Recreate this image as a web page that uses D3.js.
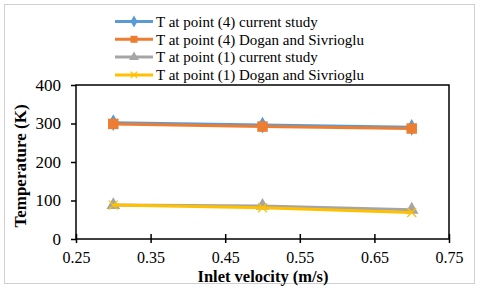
<!DOCTYPE html>
<html>
<head>
<meta charset="utf-8">
<script src="https://cdn.jsdelivr.net/npm/d3@7"></script>
<style>
  body { margin: 0; background: #fff; }
</style>
</head>
<body>
<div id="chart"></div>
<script>
var WIDTH = 480;
var HEIGHT = 289;
var FONT = 'Liberation Serif';
var TICK_SIZE = 17;
var X_TICK_SIZE = 16;
var LEGEND_SIZE = 15;

// data
var velocity = [0.3, 0.5, 0.7];
var t4Current = [302, 296, 290];
var t4Dogan = [299, 292, 287];
var t1Current = [88, 86, 76];
var t1Dogan = [88, 81, 69];
var xTicks = [0.25, 0.35, 0.45, 0.55, 0.65, 0.75];
var yTicks = [0, 100, 200, 300, 400];

var seriesNames = [
    'T at point (4) current study',
    'T at point (4) Dogan and Sivrioglu',
    'T at point (1) current study',
    'T at point (1) Dogan and Sivrioglu'
];
var seriesValues = [t4Current, t4Dogan, t1Current, t1Dogan];
var seriesColors = ['#5B9BD5', '#ED7D31', '#A5A5A5', '#FFC000'];
var seriesMarkers = ['diamond', 'square', 'triangle', 'cross'];

var plot = { left: 76, right: 449, top: 85, bottom: 239 };

var svg = d3.select('#chart').append('svg')
    .attr('width', WIDTH)
    .attr('height', HEIGHT);

// outer chart border
svg.append('rect')
    .attr('x', 4.5).attr('y', 4.5)
    .attr('width', 470).attr('height', 279)
    .style('fill', '#fff')
    .style('stroke', '#d0d0d0')
    .style('stroke-width', 1);

var x = d3.scaleLinear().domain([0.25, 0.75]).range([plot.left, plot.right]);
var y = d3.scaleLinear().domain([0, 400]).range([plot.bottom, plot.top]);

// plot frame
svg.append('rect')
    .attr('x', plot.left).attr('y', plot.top)
    .attr('width', plot.right - plot.left).attr('height', plot.bottom - plot.top)
    .style('fill', 'none')
    .style('stroke', '#000')
    .style('stroke-width', 1.5);

// x axis: ticks cross the axis line
var xAxis = svg.append('g')
    .attr('transform', `translate(0,${plot.bottom})`)
    .call(d3.axisBottom(x).tickValues(xTicks).tickFormat(d3.format('.2f')).tickSize(0).tickPadding(13));
xAxis.attr('font-family', FONT).attr('font-size', X_TICK_SIZE);
xAxis.select('.domain').remove();
xAxis.selectAll('.tick line').remove();
xAxis.selectAll('.tick').append('line')
    .attr('y1', -5).attr('y2', 4)
    .style('stroke', '#000').style('stroke-width', 1.5);
xAxis.selectAll('text').attr('fill', '#000');

var yAxis = svg.append('g')
    .attr('transform', `translate(${plot.left},0)`)
    .call(d3.axisLeft(y).tickValues(yTicks).tickSize(5).tickPadding(10));
yAxis.attr('font-family', FONT).attr('font-size', TICK_SIZE);
yAxis.select('.domain').remove();
yAxis.selectAll('.tick line').style('stroke', '#000').style('stroke-width', 1.5);
yAxis.selectAll('text').attr('fill', '#000');

// axis titles
svg.append('text')
    .attr('x', 263)
    .attr('y', 282)
    .attr('font-family', FONT)
    .attr('font-size', 16.5)
    .attr('font-weight', 'bold')
    .attr('text-anchor', 'middle')
    .text('Inlet velocity (m/s)');

svg.append('text')
    .attr('transform', 'translate(26,166)rotate(-90)')
    .attr('font-family', FONT)
    .attr('font-size', TICK_SIZE)
    .attr('font-weight', 'bold')
    .attr('text-anchor', 'middle')
    .text('Temperature (K)');

function drawMarker(g, type, color, size) {
    if (type === 'cross') {
        var s = size / 2;
        g.append('path')
            .attr('d', `M${-s},${-s}L${s},${s}M${-s},${s}L${s},${-s}`)
            .style('stroke', color).style('stroke-width', 1.3).style('fill', 'none');
        return;
    }
    var sym = { diamond: d3.symbolDiamond, square: d3.symbolSquare, triangle: d3.symbolTriangle }[type];
    g.append('path')
        .attr('d', d3.symbol().type(sym).size(size * size)())
        .style('fill', color);
}

var line = d3.line()
    .x((d) => x(d[0]))
    .y((d) => y(d[1]));

seriesValues.forEach((vals, i) => {
    var pts = velocity.map((v, j) => [v, vals[j]]);
    svg.append('path')
        .datum(pts)
        .attr('d', line)
        .style('fill', 'none')
        .style('stroke', seriesColors[i])
        .style('stroke-width', 3);
    pts.forEach((p) => {
        var g = svg.append('g').attr('transform', `translate(${x(p[0])},${y(p[1])})`);
        drawMarker(g, seriesMarkers[i], seriesColors[i], i === 1 ? 10.5 : 9);
    });
});

// legend
var legend = svg.append('g').attr('transform', 'translate(115,21.5)');
seriesNames.forEach((name, i) => {
    var row = legend.append('g').attr('transform', `translate(0,${i * 17.8})`);
    row.append('line')
        .attr('x1', 0).attr('x2', 38)
        .style('stroke', seriesColors[i])
        .style('stroke-width', 3);
    drawMarker(row.append('g').attr('transform', 'translate(19,0)'), seriesMarkers[i], seriesColors[i], i === 1 ? 7 : 6.5);
    row.append('text')
        .attr('x', 41)
        .attr('dy', '0.35em')
        .attr('font-family', FONT)
        .attr('font-size', LEGEND_SIZE)
        .attr('fill', '#000')
        .text(name);
});
</script>
</body>
</html>
